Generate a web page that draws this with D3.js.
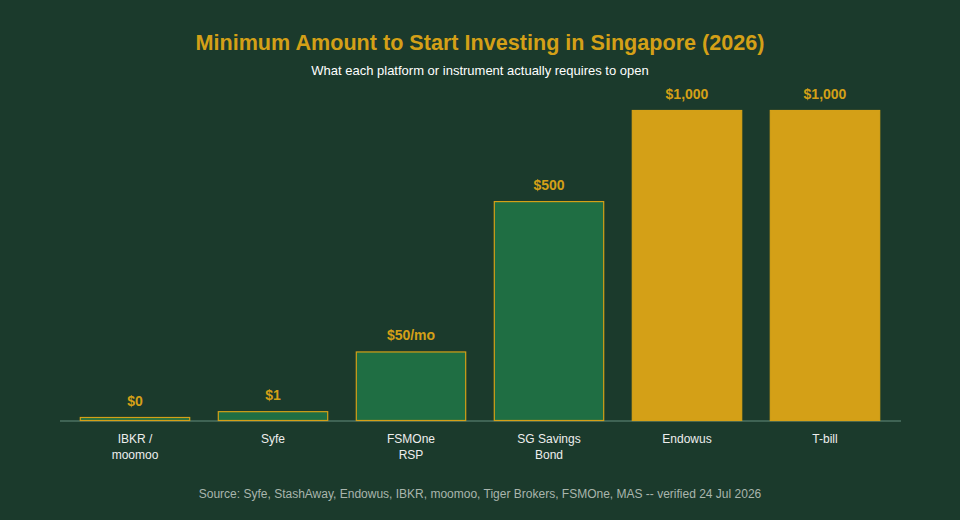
<!DOCTYPE html>
<html><head><meta charset="utf-8">
<script src="https://cdn.jsdelivr.net/npm/d3@7"></script>
<style>html,body{margin:0;padding:0;background:#1b3a2c;}svg{display:block;}</style>
</head><body>
<svg id="chart" width="960" height="520"></svg>
<script>
const categories = [["IBKR /","moomoo"],["Syfe"],["FSMOne","RSP"],["SG Savings","Bond"],["Endowus"],["T-bill"]];
const values = [0, 1, 50, 500, 1000, 1000];
const valueLabels = ["$0", "$1", "$50/mo", "$500", "$1,000", "$1,000"];
const highlight = [false, false, false, false, true, true];
const title = "Minimum Amount to Start Investing in Singapore (2026)";
const subtitle = "What each platform or instrument actually requires to open";
const source = "Source: Syfe, StashAway, Endowus, IBKR, moomoo, Tiger Brokers, FSMOne, MAS -- verified 24 Jul 2026";

const W = 960, H = 520;
const FONT = "Liberation Sans, Arial, sans-serif";
const svg = d3.select("#chart");
svg.append("rect").attr("width", W).attr("height", H).attr("fill", "#1b3a2c");

const idx = d3.range(values.length);
const x = d3.scaleBand().domain(idx).range([66, 894]).paddingInner(0.2).paddingOuter(0.1);
const y = d3.scaleSqrt().domain([0, 1000]).range([421, 110]);

svg.append("text").attr("x", 480).attr("y", 50).attr("text-anchor", "middle")
  .attr("font-family", FONT).attr("font-weight", "bold")
  .attr("font-size", 21.6).attr("fill", "#d4a017").text(title);
svg.append("text").attr("x", 480).attr("y", 75).attr("text-anchor", "middle")
  .attr("font-family", FONT)
  .attr("font-size", 13).attr("fill", "#ffffff").text(subtitle);

svg.append("line").attr("x1", 60).attr("x2", 901).attr("y1", 421).attr("y2", 421)
  .attr("stroke", "#4d7262").attr("stroke-width", 1.5);

const g = svg.append("g");
g.selectAll("rect.bar").data(idx).join("rect").attr("class", "bar")
  .attr("x", i => x(i) + 0.5).attr("width", x.bandwidth() - 1)
  .attr("y", i => Math.min(y(values[i]), y(0) - 4) + 0.5)
  .attr("height", i => Math.max(y(0) - y(values[i]), 4) - 1)
  .attr("fill", i => highlight[i] ? "#d4a017" : "#1f6e43")
  .attr("stroke", "#d4a017").attr("stroke-width", 1.2);

g.selectAll("text.val").data(idx).join("text").attr("class", "val")
  .attr("x", i => x(i) + x.bandwidth() / 2)
  .attr("y", i => Math.min(y(values[i]), y(0) - 4) - 11)
  .attr("text-anchor", "middle")
  .attr("font-family", FONT).attr("font-weight", "bold")
  .attr("font-size", 14).attr("fill", "#d4a017").text(i => valueLabels[i]);

const axis = d3.axisBottom(x).tickSize(0).tickFormat("");
const ax = svg.append("g").attr("transform", "translate(0,421)").call(axis);
ax.select(".domain").remove();

ax.selectAll(".tick").each(function(i) {
  const t = d3.select(this).append("text").attr("y", 22).attr("text-anchor", "middle")
    .attr("font-family", FONT).attr("font-size", 12).attr("fill", "#eeeeee");
  categories[i].forEach((line, k) => t.append("tspan").attr("x", 0).attr("dy", k === 0 ? 0 : 16).text(line));
});

svg.append("text").attr("x", 480).attr("y", 498).attr("text-anchor", "middle")
  .attr("font-family", FONT)
  .attr("font-size", 12).attr("fill", "#a9b5ad").text(source);
</script>
</body></html>
